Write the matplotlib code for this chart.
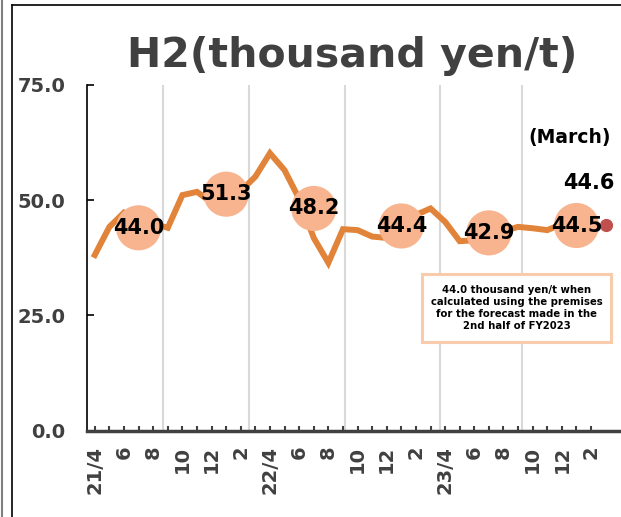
import matplotlib.pyplot as plt
import matplotlib.transforms as mtransforms
from matplotlib.lines import Line2D
from matplotlib.patches import Rectangle

# monthly H2 price, Apr 2021 .. Feb 2024 (thousand yen/t)
monthly = [38.1, 44.2, 47.3, 45.5, 44.9, 44.0,
           51.1, 51.8, 49.5, 48.5, 52.0, 55.1,
           60.2, 56.5, 50.3, 41.8, 36.4, 43.7,
           43.5, 42.1, 41.8, 44.0, 46.8, 48.2,
           45.3, 41.1, 41.3, 42.0, 43.3, 44.2,
           43.9, 43.5, 44.8, 45.2, 45.0]
march_value = 44.6

# half-year averages and the month they sit on
half_idx = [3, 9, 15, 21, 27, 33]
half_avg = [44.0, 51.3, 48.2, 44.4, 42.9, 44.5]

tick_labels = ['21/4', '6', '8', '10', '12', '2',
               '22/4', '6', '8', '10', '12', '2',
               '23/4', '6', '8', '10', '12', '2']
yticks = [0, 25, 50, 75]
grid_x = [4.67, 10.56, 17.13, 23.64, 29.25]

note = ('44.0 thousand yen/t when\ncalculated using the premises\n'
        'for the forecast made in the\n2nd half of FY2023')

orange = '#E2833A'
salmon = '#F7B48E'
gray = '#404040'

fig = plt.figure(figsize=(6.21, 5.17), dpi=100)
ax = fig.add_axes([87.5 / 621, 86.5 / 517, 1 - 87.5 / 621, 345.5 / 517])

for gx in grid_x:
    ax.plot([gx, gx], [0, 75], color='#D9D9D9', lw=1.5, zorder=1)

n = len(monthly)
ax.plot(range(n), monthly, color=orange, lw=4.3, solid_joinstyle='miter', zorder=2)
ax.plot([n], [march_value], 'o', color='#C0504D', ms=8.5, zorder=4)

ax.scatter(half_idx, half_avg, s=32.5 ** 2, color=salmon, edgecolors='none', zorder=3)
for xi, v in zip(half_idx, half_avg):
    ax.text(xi, v, f'{v:.1f}', ha='center', va='center', fontsize=15,
            fontweight='bold', color='black', zorder=5)

ax.text(33.85, 53.7, f'{march_value:.1f}', ha='center', va='center', fontsize=15,
        fontweight='bold', color='black')
ax.text(32.5, 63.7, '(March)', ha='center', va='center', fontsize=13.5,
        fontweight='bold', color='black')

ax.add_patch(Rectangle((22.39, 19.27), 13.0, 14.7, facecolor='white',
                       edgecolor='#F8CBAD', lw=2.2, zorder=6))
ax.text(28.9, 26.6, note, ha='center', va='center', fontsize=7.3,
        fontweight='bold', color='black', linespacing=1.22, zorder=7)

ax.set_xlim(-0.5, 36.05)
ax.set_ylim(0, 75)
ax.set_yticks(yticks)
ax.set_yticklabels([f'{v:.1f}' for v in yticks], fontsize=14, fontweight='bold', color=gray)
ax.set_xticks(range(n))
labels = [''] * n
for k, t in enumerate(tick_labels):
    labels[2 * k] = t
ax.set_xticklabels(labels, rotation=90, fontsize=14, fontweight='bold', color=gray,
                   va='top', ha='center')
offset = mtransforms.ScaledTranslation(4 / 100, 0, fig.dpi_scale_trans)
for lab in ax.get_xticklabels():
    lab.set_transform(lab.get_transform() + offset)

ax.tick_params(axis='y', direction='in', length=5, width=1.2, pad=16, colors='black',
               labelcolor=gray)
ax.tick_params(axis='x', direction='in', length=3.5, width=1.5, pad=11, colors=gray,
               labelcolor=gray)
ax.spines['top'].set_visible(False)
ax.spines['right'].set_visible(False)
ax.spines['left'].set_color('black')
ax.spines['left'].set_linewidth(1.2)
ax.spines['bottom'].set_color(gray)
ax.spines['bottom'].set_linewidth(2.5)
ax.spines['bottom'].set_zorder(8)

fig.text(352 / 621, 1 - 67 / 517, 'H2(thousand yen/t)', ha='center', va='baseline',
         fontsize=29.5, fontweight='bold', color=gray)

# outer frame pieces
fig.add_artist(Line2D([1.5 / 621, 1.5 / 621], [0, 1], color='#808080', lw=1.5))
fig.add_artist(Line2D([12 / 621, 12 / 621], [0, 1 - 5 / 517], color='black', lw=1.2))
fig.add_artist(Line2D([12 / 621, 1], [1 - 5 / 517, 1 - 5 / 517], color='black', lw=1.2))

fig.savefig('out.png', dpi=100)
